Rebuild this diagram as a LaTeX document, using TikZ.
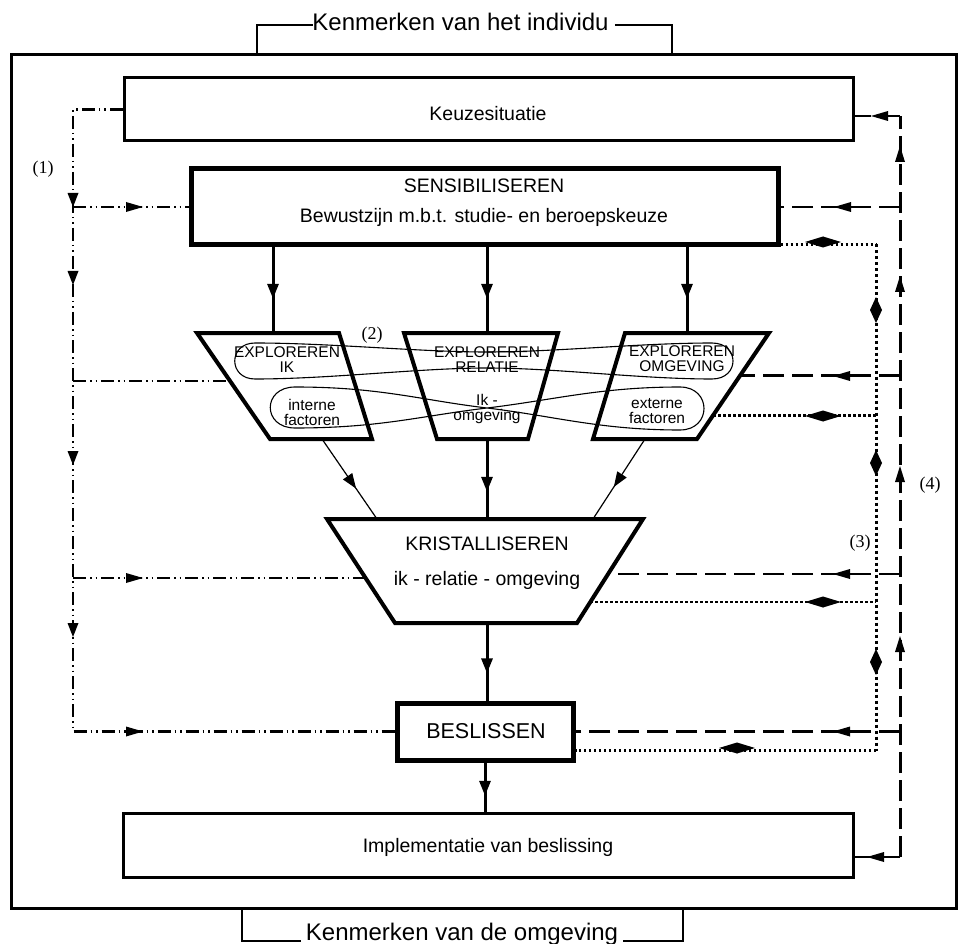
\documentclass[tikz,border=0pt]{standalone}
\usepackage{fontspec}
\setmainfont{Liberation Sans}
\newfontfamily\numfont{Liberation Serif}
\usetikzlibrary{calc,arrows.meta,decorations.markings}
\newcommand{\mkL}[1]{\fill (#1) -- ++(17,-5) -- ++(0,10) -- cycle;}
\newcommand{\mkR}[1]{\fill (#1) -- ++(-17,-5) -- ++(0,10) -- cycle;}
\newcommand{\mkU}[1]{\fill (#1) -- ++(-5,16) -- ++(10,0) -- cycle;}
\newcommand{\mkD}[1]{\fill (#1) -- ++(-5.5,-14) -- ++(11,0) -- cycle;}
\newcommand{\mkLR}[1]{\fill (#1) ++(-18,0) -- ++(18,-5.5) -- ++(0,11) -- cycle; \fill (#1) ++(18,0) -- ++(-18,-5.5) -- ++(0,11) -- cycle;}
\newcommand{\mkUD}[1]{\fill (#1) ++(0,-13) -- ++(6,13) -- ++(-6,13) -- ++(-6,-13) -- cycle;}
\tikzset{
 outerframe/.style={line width=3pt},
 brk/.style={line width=2.5pt},
 boxA/.style={draw, line width=3pt, inner sep=0pt},
 boxB/.style={draw, line width=5pt, inner sep=0pt},
 trap/.style={line width=4pt, line join=miter},
 loopln/.style={line width=1.1pt},
 lbl/.style={inner sep=0pt, font=\fontsize{19.5}{22}\selectfont},
 elbl/.style={inner sep=0pt, align=center, font=\fontsize{15.5}{15}\selectfont},
 numlbl/.style={inner sep=0pt, font=\numfont\fontsize{18}{20}\selectfont},
 flow/.style={line width=3pt},
 thinflow/.style={line width=1.2pt},
 midarr/.style={postaction={decorate,decoration={markings,mark=at position #1 with {\arrow{Triangle[length=15pt,width=11pt]}}}}},
 ddot/.style={line width=2.2pt, dash pattern=on 13pt off 4pt on 1.5pt off 4pt on 1.5pt off 4pt},
 dsh/.style={line width=2.6pt, dash pattern=on 21pt off 8pt},
 dsv/.style={line width=3pt, dash pattern=on 21pt off 7pt},
 dotln/.style={line width=2.5pt, dash pattern=on 2.5pt off 2.5pt},
 dotv/.style={line width=3pt, dash pattern=on 3pt off 3pt},
}
\begin{document}
\begin{tikzpicture}[x=1pt,y=-1pt]
\useasboundingbox (0,0) rectangle (959,944);
% outer frame
\draw[outerframe] (11,55) rectangle (956.5,908);
% top bracket
\node[inner ysep=0pt, inner xsep=0pt, anchor=base, font=\fontsize{24}{26}\selectfont] (ktop) at (460.5,31) {Kenmerken van het individu};
\coordinate (tl) at (0,25);
\draw[brk] (257,55) -- (257,25) -- ([xshift=1pt]ktop.west |- tl);
\draw[brk] ([xshift=6pt]ktop.east |- tl) -- (672,25) -- (672,55);
% bottom bracket
\node[inner xsep=5pt, inner ysep=0pt, anchor=base, font=\fontsize{24}{26}\selectfont] (kbot) at (462,940) {Kenmerken van de omgeving};
\coordinate (bl) at (0,941);
\draw[brk] (242,908) -- (242,941) -- (kbot.west |- bl);
\draw[brk] (kbot.east |- bl) -- (683,941) -- (683,908);

% boxes
\node[boxA, minimum width=729pt, minimum height=63pt] (keuze) at (488.5,109.5) {};
\node[lbl] (keuzeT) at (488,114) {Keuzesituatie};
\node[boxB, minimum width=587pt, minimum height=76pt] (sens) at (484.5,207) {};
\node[lbl] (sensT1) at (484,186) {SENSIBILISEREN};
\node[lbl] (sensT2) at (484,217) {Bewustzijn m.b.t. studie- en beroepskeuze};
\node[boxB, minimum width=176pt, minimum height=57pt] (besl) at (485,731.5) {};
\node[inner sep=0pt, font=\fontsize{21.5}{24}\selectfont] (beslT) at (486,731) {BESLISSEN};
\node[boxA, minimum width=730pt, minimum height=64pt] (impl) at (488,845) {};
\node[lbl] (implT) at (488,847) {Implementatie van beslissing};

% trapezoids
\coordinate (i1) at (197,333); \coordinate (i2) at (339,333); \coordinate (i3) at (372,439); \coordinate (i4) at (270,439);
\coordinate (r1) at (404,333); \coordinate (r2) at (558,333); \coordinate (r3) at (528,439); \coordinate (r4) at (437,439);
\coordinate (o1) at (625,333); \coordinate (o2) at (769,333); \coordinate (o3) at (697,439); \coordinate (o4) at (593,439);
\coordinate (k1) at (327,519); \coordinate (k2) at (643,519); \coordinate (k3) at (577,623); \coordinate (k4) at (395,623);
\draw[trap] (i1) -- (i2) -- (i3) -- (i4) -- cycle;
\draw[trap] (r1) -- (r2) -- (r3) -- (r4) -- cycle;
\draw[trap] (o1) -- (o2) -- (o3) -- (o4) -- cycle;
\draw[trap] (k1) -- (k2) -- (k3) -- (k4) -- cycle;

% loops
\draw[loopln] (255,343) .. controls (228,343) and (228,379) .. (255,379)
  .. controls (330,379) and (420,368) .. (487,368)
  .. controls (555,368) and (640,379) .. (712,379)
  .. controls (740,379) and (740,343) .. (712,343)
  .. controls (640,343) and (555,352) .. (487,352)
  .. controls (420,352) and (330,343) .. (255,343) -- cycle;
\draw[loopln] (295,387) .. controls (262,387) and (262,428) .. (295,428)
  .. controls (380,428) and (420,416) .. (487,408)
  .. controls (554,400) and (600,387) .. (680,387)
  .. controls (712,387) and (712,430) .. (680,430)
  .. controls (600,430) and (554,416) .. (487,408)
  .. controls (420,400) and (380,387) .. (295,387) -- cycle;

% explore texts
\node[elbl] (tIK) at (287,359.5) {EXPLOREREN\\IK};
\node[elbl] (tREL) at (487,359.5) {EXPLOREREN\\RELATIE};
\node[elbl] (tOMG) at (682,359) {EXPLOREREN\\OMGEVING};
\node[elbl] (tINT) at (312,412) {interne\\factoren};
\node[elbl] (tIKO) at (487,408.5) {Ik -\\omgeving};
\node[elbl] (tEXT) at (657,411) {externe\\factoren};
\node[lbl] (kT1) at (487,544) {KRISTALLISEREN};
\node[lbl] (kT2) at (487,580) {ik - relatie - omgeving};

% numbers
\node[numlbl] (n1) at (43,169) {(1)};
\node[numlbl] (n2) at (372,335) {(2)};
\node[numlbl] (n3) at (860,543) {(3)};
\node[numlbl] (n4) at (930,485) {(4)};

% main flow
\coordinate (ikTop) at (273,333);
\coordinate (relTop) at (487,333);
\coordinate (omgTop) at (687,333);
\draw[flow, midarr=0.6] (ikTop |- sens.south) -- (ikTop);
\draw[flow, midarr=0.6] (relTop |- sens.south) -- (relTop);
\draw[flow, midarr=0.6] (omgTop |- sens.south) -- (omgTop);
\coordinate (ikB) at (322,439); \coordinate (kA) at (377,519);
\coordinate (omB) at (645,439); \coordinate (kC) at (593,519);
\coordinate (relB) at (487,439); \coordinate (kB) at (487,519);
\draw[thinflow, midarr=0.62] (ikB) -- (kA);
\draw[thinflow, midarr=0.6] (omB) -- (kC);
\draw[flow, midarr=0.66] (relB) -- (kB);
\coordinate (kBot) at (487,623);
\draw[flow, midarr=0.65] (kBot) -- (kBot |- besl.north);
\draw[flow, midarr=0.68] (besl.south) -- (besl.south |- impl.north);

% (1) dash-dot system
\coordinate (lc) at (73,0);
\coordinate (ikL) at ($(i1)!0.453!(i4)$);
\coordinate (kL) at ($(k1)!0.567!(k4)$);
\draw[ddot] (keuze.west) -- (keuze.west -| lc) -- (besl.west -| lc) -- (besl.west);
\draw[ddot] (sens.west -| lc) -- (sens.west);
\draw[ddot] (ikL -| lc) -- (ikL);
\draw[ddot] (kL -| lc) -- (kL);
\mkD{73,207} \mkD{73,285} \mkD{73,465} \mkD{73,637}
\mkR{143,207} \mkR{143,578} \mkR{143,731.5}

% (4) dashed system
\coordinate (rc) at (900,0);
\coordinate (keuzeR) at ($(keuze.east)+(0,6.5)$);
\coordinate (implR) at ($(impl.east)+(0,12)$);
\coordinate (omgR) at ($(o2)!0.402!(o3)$);
\coordinate (kR1) at ($(k2)!0.529!(k3)$);
\draw[dsv] (implR -| rc) -- (keuzeR -| rc);
\draw[dsh] (implR -| rc) -- (implR);
\draw[dsh] (keuzeR -| rc) -- (keuzeR);
\draw[dsh] (sens.east -| rc) -- (sens.east);
\draw[dsh] (omgR -| rc) -- (omgR);
\draw[dsh] (kR1 -| rc) -- (kR1);
\draw[dsh] (besl.east -| rc) -- (besl.east);
\mkL{871,116} \mkL{834,207} \mkL{833,376} \mkL{833,574} \mkL{833,731.5} \mkL{867,857}
\mkU{900,146} \mkU{900,276} \mkU{900,466} \mkU{900,636}

% (3) dotted system
\coordinate (dc) at (876,0);
\coordinate (sensD) at ($(sens.south east)+(0,-3)$);
\coordinate (besD) at ($(besl.south east)+(0,-12)$);
\coordinate (omgD) at ($(o2)!0.776!(o3)$);
\coordinate (kR2) at ($(k2)!0.798!(k3)$);
\draw[dotln] (sensD) -- (sensD -| dc);
\draw[dotv] (sensD -| dc) -- (besD -| dc);
\draw[dotln] (besD -| dc) -- (besD);
\draw[dotln] (omgD) -- (omgD -| dc);
\draw[dotln] (kR2) -- (kR2 -| dc);
\mkLR{823,242} \mkLR{823,416} \mkLR{823,602} \mkLR{737,748}
\mkUD{876,310} \mkUD{876,463} \mkUD{876,662}
\end{tikzpicture}
\end{document}
